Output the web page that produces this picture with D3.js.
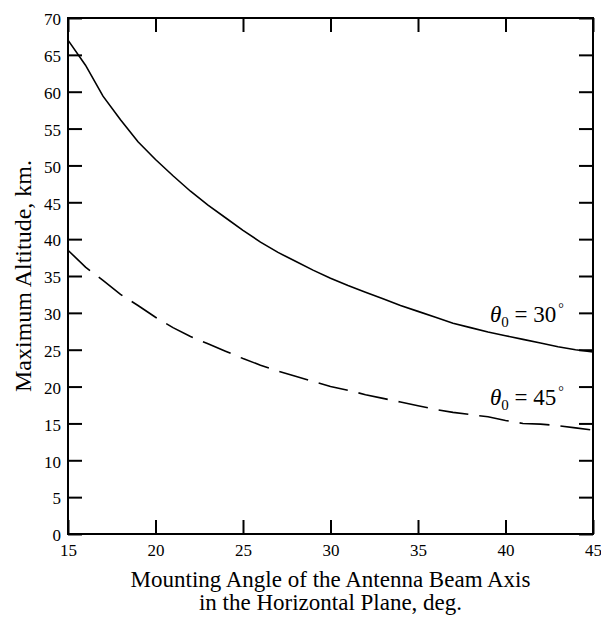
<!DOCTYPE html>
<html>
<head>
<meta charset="utf-8">
<script src="https://cdn.jsdelivr.net/npm/d3@7"></script>
<style>
  body { margin: 0; background: #fff; }
  svg { display: block; }
  text { font-family: "Liberation Serif", "Times New Roman", serif; fill: #000; }
</style>
</head>
<body>
<svg id="chart" width="601" height="619"></svg>
<script>
// ---- data ----
const angles = [15,16,17,18,19,20,21,22,23,24,25,26,27,28,29,30,31,32,33,34,35,36,37,38,39,40,41,42,43,44,45];
const altitude30 = [67.0,63.6,59.4,56.2,53.2,50.8,48.6,46.5,44.6,42.9,41.2,39.6,38.2,37.0,35.8,34.7,33.7,32.8,31.9,31.0,30.2,29.4,28.6,28.0,27.4,26.9,26.4,25.9,25.4,25.0,24.7];
const altitude45 = [38.5,36.2,34.4,32.5,31.0,29.4,28.0,26.8,25.8,24.8,23.8,22.9,22.1,21.4,20.7,20.0,19.5,18.9,18.4,17.9,17.4,16.9,16.5,16.2,15.9,15.4,15.0,14.9,14.7,14.4,14.1];
const xTicks = [15,20,25,30,35,40,45];
const yTicks = [0,5,10,15,20,25,30,35,40,45,50,55,60,65,70];
const seriesLabels = ["30", "45"];
const xTitleLines = ["Mounting Angle of the Antenna Beam Axis", "in the Horizontal Plane, deg."];
const yTitle = "Maximum Altitude, km.";

// ---- layout ----
const L = 68, R = 593, T = 18, B = 534;
const svg = d3.select("#chart");
const x = d3.scaleLinear().domain([15,45]).range([L,R]);
const y = d3.scaleLinear().domain([0,70]).range([B,T]);
const tickLen = 14;

// curves
const line = d3.line().x(d => x(d[0])).y(d => y(d[1])).curve(d3.curveLinear);
svg.append("path")
  .attr("d", line(angles.map((a,i) => [a, altitude30[i]])))
  .attr("fill","none").attr("stroke","#000").attr("stroke-width",1.6);
svg.append("path")
  .attr("d", line(angles.map((a,i) => [a, altitude45[i]])))
  .attr("fill","none").attr("stroke","#000").attr("stroke-width",1.6)
  .attr("stroke-dasharray","30,11");

// axes (ticks inward on all four sides)
const gB = svg.append("g").attr("transform",`translate(0,${B})`)
  .call(d3.axisBottom(x).tickValues(xTicks).tickSizeInner(-tickLen).tickSizeOuter(0).tickPadding(10).tickFormat(d3.format("d")));
const gT = svg.append("g").attr("transform",`translate(0,${T})`)
  .call(d3.axisTop(x).tickValues(xTicks).tickSizeInner(-tickLen).tickSizeOuter(0).tickFormat(""));
const gL = svg.append("g").attr("transform",`translate(${L},0)`)
  .call(d3.axisLeft(y).tickValues(yTicks).tickSizeInner(-tickLen).tickSizeOuter(0).tickPadding(7).tickFormat(d3.format("d")));
const gR = svg.append("g").attr("transform",`translate(${R},0)`)
  .call(d3.axisRight(y).tickValues(yTicks).tickSizeInner(-tickLen).tickSizeOuter(0).tickFormat(""));
[gB,gT,gL,gR].forEach(g => {
  g.attr("font-family", null).attr("font-size", null);
  g.select(".domain").remove();
  g.selectAll(".tick line").attr("stroke","#000").attr("stroke-width",2);
  g.selectAll(".tick text").attr("font-size",17).attr("fill","#000");
});
gL.selectAll(".tick text").attr("dy","0.4em");

// frame
svg.append("rect").attr("x",L).attr("y",T).attr("width",R-L).attr("height",B-T)
  .attr("fill","none").attr("stroke","#000").attr("stroke-width",2);

// axis titles
const xt = svg.append("text").attr("text-anchor","middle").attr("font-size",23);
xTitleLines.forEach((s,i) => xt.append("tspan").attr("x",(L+R)/2).attr("y",587 + i*23).text(s));
svg.append("text").attr("text-anchor","middle").attr("font-size",24)
  .attr("transform",`translate(31,${(T+B)/2}) rotate(-90)`).text(yTitle);

// curve labels
const labelPos = [[490, 322],[490, 405]];
seriesLabels.forEach((v,i) => {
  const t = svg.append("text").attr("x",labelPos[i][0]).attr("y",labelPos[i][1]).attr("font-size",23);
  t.append("tspan").attr("font-style","italic").text("θ");
  t.append("tspan").attr("font-size",15).attr("dy",5).text("0");
  t.append("tspan").attr("dy",-5).text(" = " + v);
  t.append("tspan").attr("font-size",14).attr("dy",-9).attr("dx",2).text("°");
});
</script>
</body>
</html>
